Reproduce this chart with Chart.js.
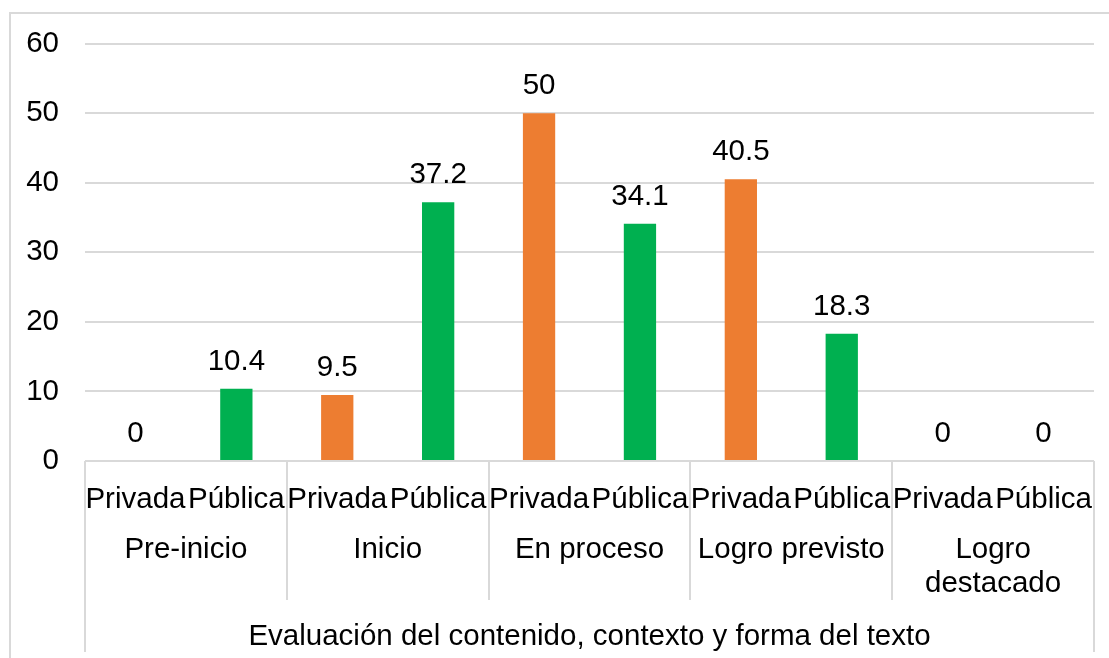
<!DOCTYPE html>
<html>
<head>
<meta charset="utf-8">
<script src="https://cdn.jsdelivr.net/npm/chart.js@4/dist/chart.umd.min.js"></script>
<style>
  body { margin: 0; background: #fff; }
  #marco { position: absolute; left: 0; top: 0; width: 1109px; height: 658px; }
  #borde { position: absolute; left: 9px; top: 12px; width: 1200px; height: 700px;
           border-left: 2px solid #d9d9d9; border-top: 2px solid #d9d9d9; }
</style>
</head>
<body>
<div id="marco">
  <div id="borde"></div>
  <canvas id="grafico" width="1109" height="658"></canvas>
</div>
<script>
const niveles = ['Pre-inicio', 'Inicio', 'En proceso', 'Logro previsto', ['Logro', 'destacado']];
const tipos = ['Privada', 'Pública'];
const privada = [0, 9.5, 50, 40.5, 0];
const publica = [10.4, 37.2, 34.1, 18.3, 0];
const ticksY = [0, 10, 20, 30, 40, 50, 60];
const tituloEje = 'Evaluación del contenido, contexto y forma del texto';

const fuente = "'Liberation Sans', Arial, sans-serif";
const tam = 29.5;
const gris = '#d9d9d9';

// etiquetas y valores intercalados: Privada, Pública por nivel
const etiquetas = [];
const valores = [];
const colores = [];
niveles.forEach((n, i) => {
  etiquetas.push(tipos[0], tipos[1]);
  valores.push(privada[i], publica[i]);
  colores.push('#ed7d31', '#00b050');
});

// dibuja el eje de categorias de dos niveles y las etiquetas de datos
const ejeMultinivel = {
  id: 'ejeMultinivel',
  afterDraw(chart) {
    const ctx = chart.ctx;
    const x = chart.scales.x;
    const area = chart.chartArea;
    const paso = x.getPixelForValue(1) - x.getPixelForValue(0);
    ctx.save();
    ctx.font = tam + 'px ' + fuente;
    ctx.fillStyle = '#000';
    ctx.textAlign = 'center';
    ctx.textBaseline = 'alphabetic';

    // valores sobre las barras
    const meta = chart.getDatasetMeta(0);
    meta.data.forEach((bar, i) => {
      ctx.fillText(String(valores[i]), bar.x, bar.y - 19);
    });

    // subcategorias
    etiquetas.forEach((t, i) => {
      ctx.fillText(t, x.getPixelForValue(i), 508);
    });

    // niveles
    niveles.forEach((n, i) => {
      const cx = (x.getPixelForValue(2 * i) + x.getPixelForValue(2 * i + 1)) / 2;
      const lineas = Array.isArray(n) ? n : [n];
      lineas.forEach((l, j) => ctx.fillText(l, cx, 558 + j * 34));
    });

    // titulo del eje
    ctx.fillText(tituloEje, (area.left + area.right) / 2, 645);

    // divisiones
    ctx.strokeStyle = gris;
    ctx.lineWidth = 2;
    ctx.beginPath();
    for (let i = 0; i <= niveles.length; i++) {
      const px = Math.round(x.getPixelForValue(2 * i) - paso / 2) ;
      const fin = (i === 0 || i === niveles.length) ? 652 : 600;
      ctx.moveTo(px, area.bottom);
      ctx.lineTo(px, fin);
    }
    ctx.stroke();
    ctx.restore();
  }
};

new Chart(document.getElementById('grafico'), {
  type: 'bar',
  data: {
    labels: etiquetas,
    datasets: [{
      data: valores,
      backgroundColor: colores,
      barPercentage: 0.32,
      categoryPercentage: 1
    }]
  },
  options: {
    responsive: false,
    animation: false,
    layout: { padding: { left: 0, right: 15, top: 42, bottom: 197 } },
    plugins: { legend: { display: false }, tooltip: { enabled: false } },
    scales: {
      x: {
        ticks: { display: false },
        grid: { display: false, drawTicks: false },
        border: { display: false },
        afterFit: s => { s.height = 0; }
      },
      y: {
        min: 0,
        max: 60,
        afterBuildTicks: s => { s.ticks = ticksY.map(v => ({ value: v })); },
        ticks: { color: '#000', font: { family: fuente, size: tam }, padding: 26 },
        grid: { color: gris, lineWidth: 2, drawTicks: false },
        border: { display: false },
        afterFit: s => { s.width = 85; }
      }
    }
  },
  plugins: [ejeMultinivel]
});
</script>
</body>
</html>
